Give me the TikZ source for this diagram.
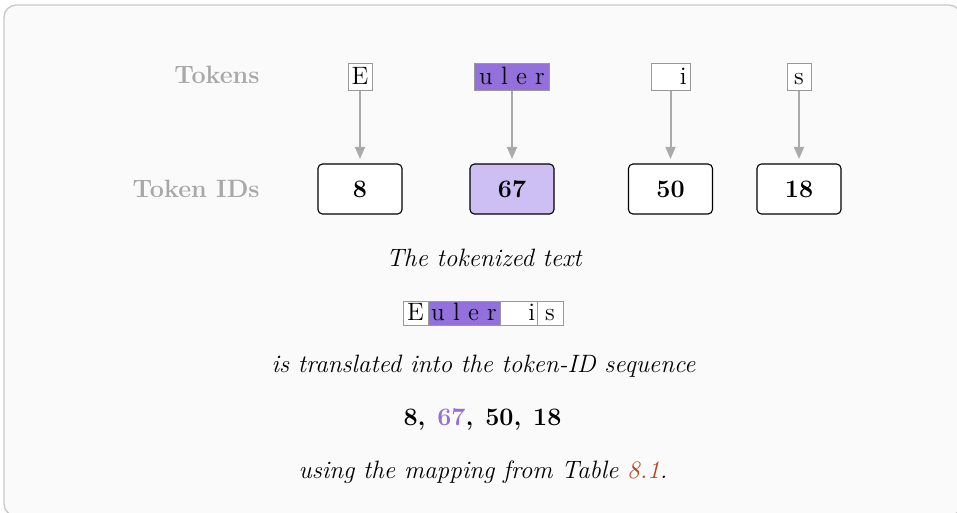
\documentclass[tikz,border=0pt]{standalone}
\usetikzlibrary{arrows.meta}
\definecolor{tokpurple}{HTML}{9370DB}
\definecolor{idpurple}{HTML}{CDBFF3}
\definecolor{framegray}{HTML}{C8C8C8}
\definecolor{bggray}{HTML}{FAFAFA}
\definecolor{labelgray}{HTML}{A8A8A8}
\definecolor{boxgray}{HTML}{999999}
\definecolor{arrowgray}{HTML}{AAAAAA}
\definecolor{refred}{HTML}{B5441C}
\begin{document}
\fontsize{11.3}{13.8}\selectfont
\begin{tikzpicture}[x=0.45pt,y=-0.45pt,
  rowlabel/.style={font=\bfseries, text=labelgray, anchor=base east, inner sep=0pt},
  tok/.style={draw=boxgray, line width=0.4pt, fill=white, inner xsep=1.5pt, inner ysep=2pt,
    minimum height=12.2pt, text height=7.5pt, text depth=0.6pt},
  idbox/.style={draw=black, line width=0.5pt, fill=white, rounded corners=2pt,
    minimum width=37.8pt, minimum height=22.5pt, font=\bfseries},
  strip/.style={draw=boxgray, line width=0.4pt, fill=white, inner sep=0pt, outer sep=0pt,
    minimum height=10.8pt, anchor=west, text height=7.5pt, text depth=0.6pt},
  conn/.style={draw=arrowgray, line width=0.9pt, -{Triangle[width=4.5pt,length=5.5pt]}},
  caption/.style={font=\itshape, anchor=base, inner sep=0pt}
]
\useasboundingbox (0,0) rectangle (957,512);
\draw[draw=framegray, fill=bggray, line width=0.6pt, rounded corners=5.5pt] (4,5) rectangle (961,516);

\node[rowlabel] (lt) at (260,83) {Tokens};
\node[rowlabel] (li) at (260,197) {Token IDs};

\node[tok, minimum width=10.8pt] (t1) at (360,76.5) {E};
\node[tok, fill=tokpurple, minimum width=34pt] (t2) at (512,76.5) {u l e r};
\node[tok, text width=14.5pt, align=right] (t3) at (670.5,76.5) {i};
\node[tok, minimum width=10.8pt] (t4) at (799,76.5) {s};

\node[idbox] (i1) at (360,189) {8};
\node[idbox, fill=idpurple] (i2) at (512,189) {67};
\node[idbox] (i3) at (670.5,189) {50};
\node[idbox] (i4) at (799,189) {18};

\foreach \a/\b in {t1/i1,t2/i2,t3/i3,t4/i4}
  \draw[conn, shorten >=2pt] (\a.south) -- (\b.north);

\node[caption] (c1) at (484,266) {The tokenized text};

\node[strip, minimum width=11.25pt] (s1) at (403,313) {E};
\node[strip, fill=tokpurple, minimum width=32.4pt] (s2) at (s1.east) {u l e r};
\node[strip, minimum width=16.65pt, text width=15pt, align=right] (s3) at (s2.east) {i};
\node[strip, minimum width=11.7pt] (s4) at (s3.east) {s};

\node[caption] (c2) at (483.5,372) {is translated into the token-ID sequence};
\node[anchor=base, inner sep=0pt, font=\bfseries] (seq) at (482.5,425) {8,\hspace{5.3pt}\textcolor{tokpurple}{67},\hspace{5.3pt}50,\hspace{5.3pt}18};
\node[caption] (c3) at (483,478) {using the mapping from Table \textcolor{refred}{8.1}.};
\end{tikzpicture}
\end{document}
